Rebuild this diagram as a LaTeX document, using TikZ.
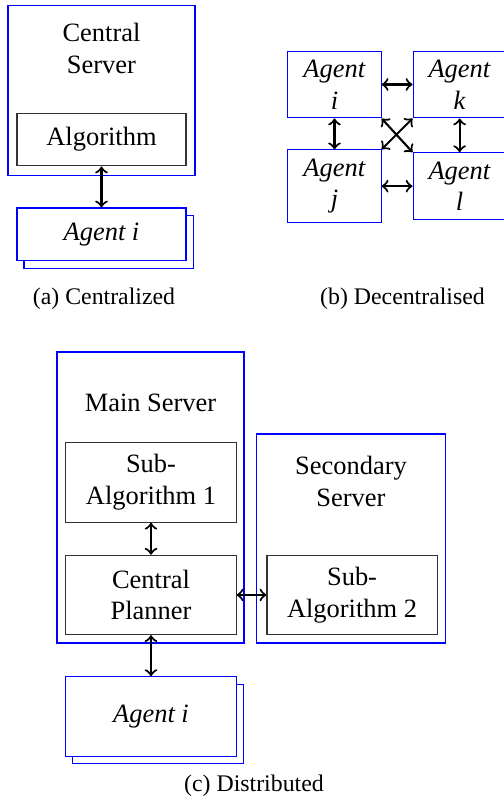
\documentclass[tikz,border=0pt]{standalone}
\usepackage{fontspec}
\setmainfont{Liberation Serif}
\usetikzlibrary{positioning,shadows}

\begin{document}
\begin{tikzpicture}[
	x=0.378pt, y=-0.378pt,
	server/.style = {
		draw=blue,
		rectangle,
	},
	algbox/.style = {
		draw=black!80,
		rectangle,
		align=center,
		minimum width=64.3pt,
		minimum height=30pt,
	},
	agent/.style = {
		draw=blue,
		fill=white,
		align=center,
		minimum width=35.2pt,
	},
	stack/.style = {
		draw=blue,
		fill=white,
		copy shadow={shadow xshift=2.65pt, shadow yshift=-2.9pt},
	},
	link/.style = {<->, thick},
	caption/.style = {anchor=base, font=\small},
	node distance=11.7pt
]
\useasboundingbox (0,0) rectangle (504,804);

% (a) centralised
\node [server, minimum width=70.7pt, minimum height=64.6pt] (cserver) at (101.5,90.5) {};
\node [align=center] (cname) at (101.5,48.5) {Central\\Server};
\node [algbox, minimum width=63.9pt, minimum height=20pt] (alg) at (101.5,139.5) {Algorithm};
\node [stack, minimum width=63.9pt, minimum height=20pt, below=15.5pt of alg] (agenta) {\textit{Agent i}};
\draw[link] (alg.south) -- (agenta.north);
\node [caption] (capa) at (104,304) {(a) Centralized};

% (b) decentralised
\node [agent] (ai) at (334.5,84.5) {\textit{Agent}\\\textit{i}};
\node [agent, right=of ai] (ak) {\textit{Agent}\\\textit{k}};
\node [agent, below=of ai] (aj) {\textit{Agent}\\\textit{j}};
\node [agent, right=of aj] (al) {\textit{Agent}\\\textit{l}};
\draw[link] (ai) -- (ak);
\draw[link] (ai) -- (aj);
\draw[link] (ak) -- (al);
\draw[link] (aj) -- (al);
\draw[link] (ai.south east) -- (al.north west);
\draw[link] (aj.north east) -- (ak.south west);
\node [caption] (capb) at (402.5,304) {(b) Decentralised};

% (c) distributed
\node [server, minimum width=70.7pt, minimum height=110pt] (mserver) at (150.5,497.5) {};
\node [anchor=base] (mname) at (150.5,411) {Main Server};
\node [algbox] (sub1) at (151,482.5) {Sub-\\Algorithm 1};
\node [algbox, below=12.1pt of sub1] (cplan) {Central\\Planner};

\node [server, minimum width=71.1pt, minimum height=79pt] (sserver) at (351,538.5) {};
\node [align=center] (sname) at (351,481.5) {Secondary\\Server};
\node [algbox, right=11.3pt of cplan] (sub2) {Sub-\\Algorithm 2};

\node [stack, minimum width=64.3pt, minimum height=30pt, below=15.5pt of cplan] (agentc) {\textit{Agent i}};

\draw[link] (sub1.south) -- (cplan.north);
\draw[link] (cplan.east) -- (sub2.west);
\draw[link] (cplan.south) -- (agentc.north);
\node [caption] (capc) at (254,791) {(c) Distributed};

\end{tikzpicture}
\end{document}
